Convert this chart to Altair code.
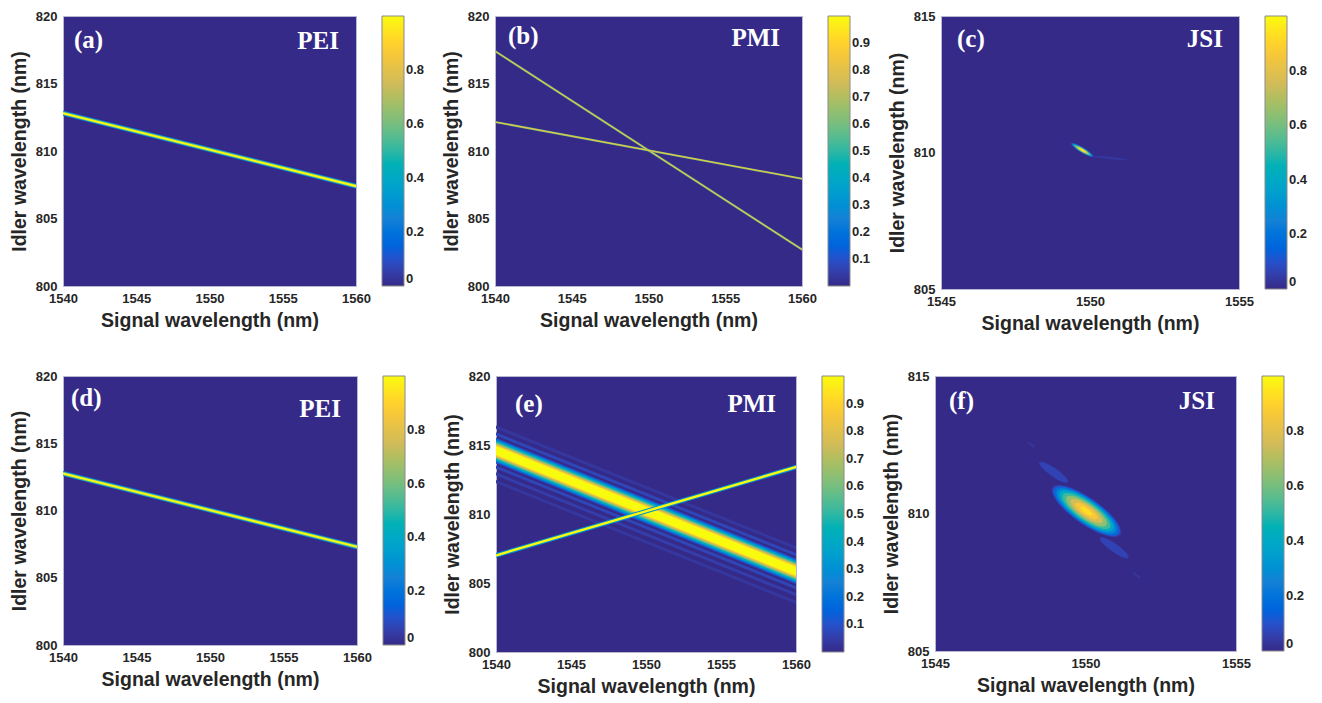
import altair as alt
import pandas as pd

# ---------------- colour map (MATLAB parula) ----------------
PARULA = ["#352a87", "#0f5cdd", "#1481d6", "#06a4ca", "#2eb7a4",
          "#87bf77", "#d1bb59", "#fec832", "#f9fb0e"]
BG = PARULA[0]

# ---------------- panel texts / ticks ----------------
letters = ["(a)", "(b)", "(c)", "(d)", "(e)", "(f)"]
names = ["PEI", "PMI", "JSI", "PEI", "PMI", "JSI"]
x_domains = [[1540, 1560], [1540, 1560], [1545, 1555],
             [1540, 1560], [1540, 1560], [1545, 1555]]
y_domains = [[800, 820], [800, 820], [805, 815],
             [800, 820], [800, 820], [805, 815]]
x_ticks_wide = [1540, 1545, 1550, 1555, 1560]
y_ticks_wide = [800, 805, 810, 815, 820]
x_ticks_narrow = [1545, 1550, 1555]
y_ticks_narrow = [805, 810, 815]
cbar_ticks_5 = [0, 0.2, 0.4, 0.6, 0.8]
cbar_ticks_9 = [0.1, 0.2, 0.3, 0.4, 0.5, 0.6, 0.7, 0.8, 0.9]

# ---------------- data ----------------
# (a) PEI line
a_x = [1540, 1560]
a_y = [812.8, 807.4]
# (d) PEI line
d_x = [1540, 1560]
d_y = [812.75, 807.3]
pei_levels = [0.2, 0.55, 1.0]
# (b) two PMI lines
b_x1 = [1540, 1540]
b_y1 = [817.4, 812.15]
b_x2 = [1560, 1560]
b_y2 = [802.7, 807.95]
b_levels = [0.6, 0.85]
# (e) PMI broad band, its side lobes and the thin line
e_band_x = [1540, 1560]
e_band_y = [814.6, 805.85]
e_band_levels = [0.04, 0.1, 0.18, 0.27, 0.36, 0.45, 0.55, 0.65, 0.75, 0.85, 0.93, 1.0]
e_lobe_y1 = [816.3, 815.8, 813.4, 812.9, 812.35]
e_lobe_y2 = [807.55, 807.05, 804.65, 804.15, 803.6]
e_lobe_levels = [0.035, 0.07, 0.07, 0.05, 0.035]
e_line_x = [1540, 1560]
e_line_y = [807.0, 813.4]
e_line_levels = [0.3, 1.0]
# (c) JSI narrow spot and faint tail
c_cx = [1549.74]
c_cy = [810.09]
c_levels = [0.08, 0.3, 0.55, 0.8, 0.97]
c_tail_x = [1550.65]
c_tail_y = [809.8]
c_tail_level = [0.035]
# (f) JSI main lobe, side lobes and faint dots
f_cx = [1550.03]
f_cy = [810.09]
f_levels = [0.04, 0.1, 0.18, 0.28, 0.4, 0.52, 0.64, 0.76, 0.86, 0.93]
f_lobe_x = [1548.94, 1550.96]
f_lobe_y = [811.5, 808.75]
f_lobe_levels = [0.065, 0.065]
f_dot_x = [1548.2, 1551.7]
f_dot_y = [812.5, 807.75]
f_dot_levels = [0.035, 0.035]

# ---------------- layout ----------------
plot_w = [293, 307, 298, 294, 300, 301]
plot_h = [270, 270, 273, 269, 276, 275]
lab_dx = [11, 13, 16, 8, 19, 14]
lab_dy = [32, 28, 31, 30, 36, 33]
nam_dr = [17, 22, 16, 16, 20, 21]
nam_dy = [33, 30, 31, 41, 36, 33]

ELL_F = "M -1 0 A 1 0.32 0 1 1 1 0 A 1 0.32 0 1 1 -1 0 Z"
ELL_L = "M -1 0 A 1 0.24 0 1 1 1 0 A 1 0.24 0 1 1 -1 0 Z"
ELL_C = "M -1 0 A 1 0.2 0 1 1 1 0 A 1 0.2 0 1 1 -1 0 Z"
ELL_T = "M -1 0 A 1 0.07 0 1 1 1 0 A 1 0.07 0 1 1 -1 0 Z"


def enc_xy(i, xf, yf):
    narrow = x_domains[i][0] == 1545
    xs = alt.Scale(domain=x_domains[i], nice=False, zero=False)
    ys = alt.Scale(domain=y_domains[i], nice=False, zero=False)
    xa = alt.Axis(values=x_ticks_narrow if narrow else x_ticks_wide,
                  title="Signal wavelength (nm)", format="d")
    ya = alt.Axis(values=y_ticks_narrow if narrow else y_ticks_wide,
                  title="Idler wavelength (nm)", format="d")
    return (alt.X(xf, type="quantitative", scale=xs, axis=xa),
            alt.Y(yf, type="quantitative", scale=ys, axis=ya))


def color_enc(i):
    vals = cbar_ticks_9 if names[i] == "PMI" else cbar_ticks_5
    return alt.Color("v:Q", scale=alt.Scale(domain=[0, 1], range=PARULA),
                     legend=alt.Legend(type="gradient", values=vals,
                                       gradientLength=plot_h[i],
                                       title=None, format=".1~f"))


def seg_df(x1, y1, x2, y2, levels):
    rows = []
    for k in range(len(x1)):
        for lv in levels:
            rows.append({"x1": x1[k], "y1": y1[k], "x2": x2[k], "y2": y2[k], "v": lv})
    return pd.DataFrame(rows)


def rule_layer(i, df, width):
    x, y = enc_xy(i, "x1", "y1")
    return alt.Chart(df).mark_rule(clip=True, strokeCap="square").encode(
        x=x, y=y, x2="x2:Q", y2="y2:Q", color=color_enc(i), strokeWidth=width)


def point_layer(i, df, shape, angle, size):
    x, y = enc_xy(i, "x", "y")
    return alt.Chart(df).mark_point(shape=shape, filled=True, opacity=1,
                                    angle=angle, strokeWidth=0, clip=True).encode(
        x=x, y=y, color=color_enc(i), size=size)


def label_layers(i):
    df = pd.DataFrame({"t": [letters[i]], "n": [names[i]]})
    base = dict(font="Liberation Serif", fontWeight="bold", fontSize=25,
                color="white", baseline="alphabetic")
    left = alt.Chart(df).mark_text(align="left", **base).encode(
        text="t:N", x=alt.value(lab_dx[i]), y=alt.value(lab_dy[i]))
    right = alt.Chart(df).mark_text(align="right", **base).encode(
        text="n:N", x=alt.value(plot_w[i] - nam_dr[i]), y=alt.value(nam_dy[i]))
    return [left, right]


def sw(domain, rng):
    return alt.StrokeWidth("v:Q", scale=alt.Scale(domain=domain, range=rng), legend=None)


def sz(domain, rng):
    return alt.Size("v:Q", scale=alt.Scale(domain=domain, range=rng), legend=None)


def finish(i, layers):
    return alt.layer(*layers).resolve_scale(
        strokeWidth="independent", size="independent"
    ).properties(width=plot_w[i], height=plot_h[i])


# (a)
pa = finish(0, [rule_layer(0, seg_df([a_x[0]], [a_y[0]], [a_x[1]], [a_y[1]], pei_levels),
                           sw([0.2, 1.0], [5, 2]))] + label_layers(0))
# (b)
pb = finish(1, [rule_layer(1, seg_df(b_x1, b_y1, b_x2, b_y2, b_levels),
                           sw([0.6, 0.85], [2.0, 1.0]))] + label_layers(1))
# (c)
c_spot = pd.DataFrame({"x": c_cx * len(c_levels), "y": c_cy * len(c_levels), "v": c_levels})
c_tail = pd.DataFrame({"x": c_tail_x, "y": c_tail_y, "v": c_tail_level})
pc = finish(2, [point_layer(2, c_tail, ELL_T, 6, alt.value(1300)),
                point_layer(2, c_spot, ELL_C, 31, sz([0.08, 0.97], [680, 60]))]
            + label_layers(2))
# (d)
pd_ = finish(3, [rule_layer(3, seg_df([d_x[0]], [d_y[0]], [d_x[1]], [d_y[1]], pei_levels),
                            sw([0.2, 1.0], [5, 2]))] + label_layers(3))
# (e)
e_band = seg_df([e_band_x[0]], [e_band_y[0]], [e_band_x[1]], [e_band_y[1]], e_band_levels)
e_lobes = pd.DataFrame({"x1": [1540] * len(e_lobe_y1), "y1": e_lobe_y1,
                        "x2": [1560] * len(e_lobe_y2), "y2": e_lobe_y2, "v": e_lobe_levels})
e_line = seg_df([e_line_x[0]], [e_line_y[0]], [e_line_x[1]], [e_line_y[1]], e_line_levels)
pe = finish(4, [rule_layer(4, e_lobes, alt.value(3)),
                rule_layer(4, e_band, sw([0.04, 1.0], [24, 8])),
                rule_layer(4, e_line, sw([0.3, 1.0], [4.5, 2.4]))] + label_layers(4))
# (f)
f_lobes = pd.DataFrame({"x": f_lobe_x, "y": f_lobe_y, "v": f_lobe_levels})
f_dots = pd.DataFrame({"x": f_dot_x, "y": f_dot_y, "v": f_dot_levels})
f_main = pd.DataFrame({"x": f_cx * len(f_levels), "y": f_cy * len(f_levels), "v": f_levels})
pf = finish(5, [point_layer(5, f_dots, ELL_L, 35, alt.value(90)),
                point_layer(5, f_lobes, ELL_L, 35, alt.value(1200)),
                point_layer(5, f_main, ELL_F, 35, sz([0.04, 0.93], [6900, 200]))]
            + label_layers(5))

indep = dict(color="independent", size="independent", strokeWidth="independent",
             x="independent", y="independent")
row1 = alt.hconcat(pa, pb, pc, spacing=14).resolve_scale(**indep)
row2 = alt.hconcat(pd_, pe, pf, spacing=14).resolve_scale(**indep)
chart = alt.vconcat(row1, row2, spacing=36).resolve_scale(**indep).properties(
    padding={"left": 8, "top": 9, "right": 5, "bottom": 5},
    background="white",
).configure_view(
    fill=BG, stroke="#b8b8d0", strokeWidth=1
).configure_axis(
    grid=False, ticks=False, domain=False, labelFlush=False,
    labelFont="Liberation Sans", labelFontSize=13, labelFontWeight="bold",
    labelColor="#262626", labelPadding=6,
    titleFont="Liberation Sans", titleFontSize=19.5, titleFontWeight="bold",
    titleColor="#262626", titlePadding=6,
).configure_legend(
    orient="right", offset=26, padding=0, gradientThickness=22,
    gradientStrokeColor="#8a8a8a", gradientStrokeWidth=1,
    labelFont="Liberation Sans", labelFontSize=13, labelFontWeight="bold",
    labelColor="#262626", labelOffset=5,
)

chart.save("out.html", embed_options={"renderer": "svg", "actions": False})
